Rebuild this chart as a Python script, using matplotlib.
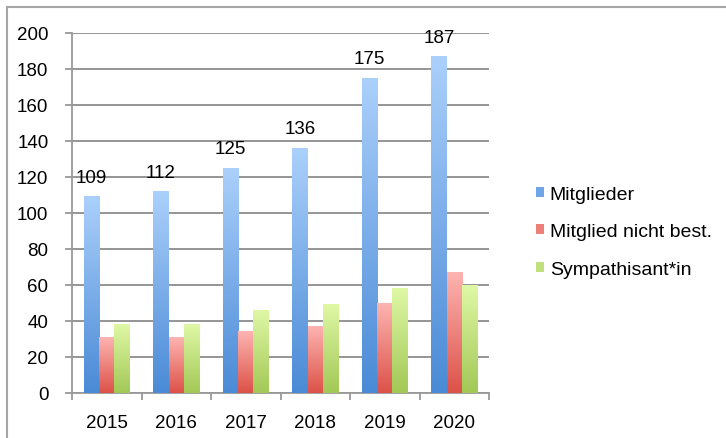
import numpy as np
import matplotlib.pyplot as plt
from matplotlib.colors import LinearSegmentedColormap
from matplotlib.lines import Line2D
from matplotlib.patches import Patch

plt.rcParams['font.family'] = ['Liberation Sans', 'DejaVu Sans']

years = ['2015', '2016', '2017', '2018', '2019', '2020']
mitglieder = [109, 112, 125, 136, 175, 187]
nicht_best = [31, 31, 34, 37, 50, 67]
sympath = [38, 38, 46, 49, 58, 60]
series_names = ['Mitglieder', 'Mitglied nicht best.', 'Sympathisant*in']

# (top colour, bottom colour) per series
grads = [('#abd0fb', '#4a8ad6'), ('#fdb4b1', '#dc5248'), ('#dff8a6', '#a2c856')]
legend_cols = ['#6ea6e8', '#ec7f78', '#bfe07c']

fig = plt.figure(figsize=(7.26, 4.39), dpi=100)
ax = fig.add_axes([72/726, 45/439, 417/726, 360/439])

x = np.arange(len(years))
w = 0.22
grad = np.linspace(1, 0, 256).reshape(-1, 1)
for k, vals in enumerate([mitglieder, nicht_best, sympath]):
    cmap = LinearSegmentedColormap.from_list('g%d' % k, [grads[k][1], grads[k][0]])
    for i, v in enumerate(vals):
        x0 = x[i] - 1.5*w + k*w
        ax.imshow(grad, extent=[x0, x0 + w, 0, v], cmap=cmap, aspect='auto',
                  zorder=3, interpolation='bicubic')
    if k == 0:
        for i, v in enumerate(vals):
            ax.text(x[i] - w, v + 6, str(v), ha='center', va='bottom', fontsize=13.5, zorder=4)

ax.set_xlim(-0.5, len(years) - 0.5)
ax.set_ylim(0, 200)
ax.set_yticks(np.arange(0, 201, 20))
ax.yaxis.grid(True, color='#8c8c8c', linewidth=1.3, zorder=0)
ax.set_axisbelow(True)
ax.set_xticks(x)
ax.set_xticklabels(years)
ax.set_xticks(np.arange(-0.5, len(years)), minor=True)
ax.tick_params(axis='x', which='major', length=0, pad=15, labelsize=13.5)
ax.tick_params(axis='x', which='minor', length=5, color='#999999', width=1.3)
ax.tick_params(axis='y', length=5, color='#999999', width=1.3, pad=12, labelsize=13.5)
for s in ['top', 'right']:
    ax.spines[s].set_visible(False)
for s in ['left', 'bottom']:
    ax.spines[s].set_color('#999999')
    ax.spines[s].set_linewidth(1.3)

handles = [Patch(facecolor=c) for c in legend_cols]
leg = fig.legend(handles, series_names, loc='upper left', bbox_to_anchor=(526/726, 1 - 177/439),
                 frameon=False, fontsize=14, handlelength=0.42, handleheight=0.42,
                 handletextpad=0.3, labelspacing=1.06, borderpad=0)

# outer frame (top and left only, as cropped)
fig.add_artist(Line2D([7/726, 1], [1 - 8/439, 1 - 8/439], color='#a6a6a6', linewidth=1.5))
fig.add_artist(Line2D([7/726, 7/726], [0, 1 - 8/439], color='#a6a6a6', linewidth=1.5))

plt.savefig('out.png', dpi=100)
